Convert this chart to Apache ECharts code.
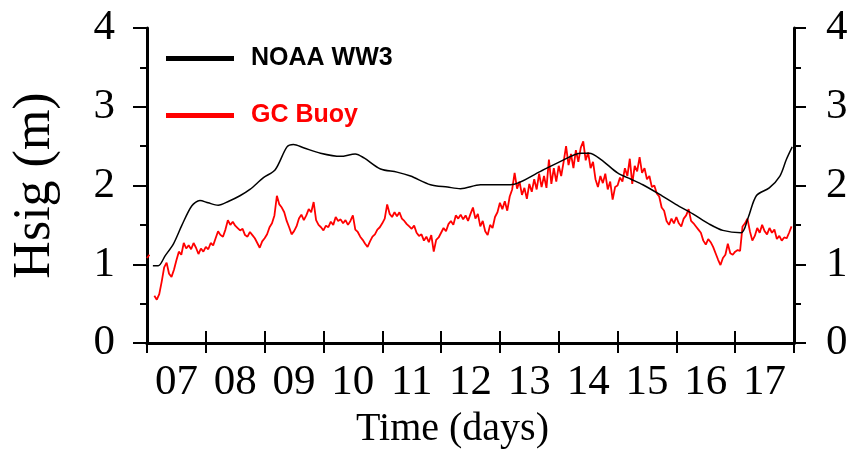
<!DOCTYPE html>
<html>
<head>
<meta charset="utf-8">
<script src="https://cdn.jsdelivr.net/npm/echarts@6/dist/echarts.min.js"></script>
<style>
  html, body { margin: 0; padding: 0; background: #fff; }
  #main { width: 851px; height: 454px; }
</style>
</head>
<body>
<div id="main"></div>
<script>
// day labels, centred on each day
var dayLabels = ['07', '08', '09', '10', '11', '12', '13', '14', '15', '16', '17'];

// NOAA WW3 model: time (day of month) and Hsig (m)
var wwTimes = [7.10, 7.19, 7.31, 7.45, 7.59, 7.76, 7.90, 8.04, 8.21, 8.39, 8.58, 8.75, 8.98, 9.18, 9.38, 9.49,
  9.66, 9.95, 10.29, 10.54, 10.69, 10.97, 11.25, 11.48, 11.82, 12.11, 12.33, 12.67, 13.18, 13.69, 14.04, 14.38,
  14.52, 14.72, 15.00, 15.23, 15.43, 15.71, 15.99, 16.28, 16.56, 16.79, 17.10, 17.22, 17.36, 17.58, 17.76, 17.87, 17.97];
var wwHsig = [0.98, 0.98, 1.11, 1.26, 1.49, 1.74, 1.81, 1.78, 1.75, 1.80, 1.87, 1.95, 2.10, 2.20, 2.49, 2.52,
  2.48, 2.41, 2.37, 2.40, 2.35, 2.21, 2.17, 2.12, 2.01, 1.98, 1.96, 2.01, 2.01, 2.18, 2.31, 2.41,
  2.41, 2.33, 2.16, 2.08, 2.01, 1.89, 1.76, 1.64, 1.51, 1.43, 1.40, 1.59, 1.87, 1.97, 2.12, 2.33, 2.49];

// GC buoy: hourly Hsig (m) starting 07 00:00
var buoyStart = 7;
var buoyHsig = [
  1.08, 1.12, null, 0.60, 0.55, 0.62, 0.78, 0.96, 1.02, 0.88, 0.84, 0.93, 1.05, 1.16, 1.12, 1.27, 1.20, 1.24, 1.19, 1.27, 1.21, 1.13, 1.20, 1.16,
  1.22, 1.19, 1.27, 1.24, 1.33, 1.42, 1.37, 1.35, 1.44, 1.56, 1.50, 1.54, 1.49, 1.46, 1.43, 1.45, 1.37, 1.35, 1.41, 1.37, 1.33, 1.27, 1.21, 1.29,
  1.33, 1.38, 1.47, 1.52, 1.62, 1.87, 1.76, 1.72, 1.66, 1.55, 1.47, 1.38, 1.42, 1.48, 1.58, 1.63, 1.56, 1.62, 1.70, 1.66, 1.79, 1.56, 1.50, 1.47,
  1.43, 1.49, 1.47, 1.54, 1.50, 1.60, 1.55, 1.57, 1.52, 1.56, 1.50, 1.55, 1.62, 1.44, 1.41, 1.35, 1.31, 1.26, 1.22, 1.29, 1.35, 1.38, 1.44, 1.47,
  1.52, 1.58, 1.76, 1.64, 1.60, 1.66, 1.61, 1.66, 1.58, 1.55, 1.51, 1.48, 1.45, 1.49, 1.40, 1.36, 1.38, 1.30, 1.35, 1.28, 1.37, 1.16, 1.31, 1.34,
  1.40, 1.46, 1.42, 1.51, 1.55, 1.50, 1.62, 1.58, 1.63, 1.57, 1.62, 1.55, 1.64, 1.72, 1.58, 1.64, 1.48, 1.55, 1.42, 1.37, 1.50, 1.46, 1.60, 1.66,
  1.78, 1.70, 1.80, 1.68, 1.86, 1.95, 2.16, 1.96, 2.05, 1.88, 1.97, 1.83, 2.02, 1.92, 2.08, 1.95, 2.15, 1.98, 2.12, 1.97, 2.33, 2.02, 2.22, 2.05,
  2.25, 2.12, 2.30, 2.50, 2.26, 2.40, 2.22, 2.45, 2.30, 2.48, 2.56, 2.32, 2.42, 2.22, 2.30, 2.08, 1.98, 2.12, 2.03, 2.15, 1.95, 2.05, 1.82, 1.98,
  2.00, 2.10, 2.05, 2.22, 2.12, 2.34, 2.02, 2.25, 2.18, 2.36, 2.16, 2.22, 2.08, 2.12, 1.98, 2.00, 1.90, 1.86, 1.72, 1.68, 1.55, 1.50, 1.58, 1.52,
  1.60, 1.52, 1.48, 1.58, 1.62, 1.70, 1.55, 1.52, 1.48, 1.44, 1.40, 1.30, 1.25, 1.32, 1.28, 1.22, 1.14, 1.06, 0.99, 1.08, 1.12, 1.26, 1.14, 1.12,
  1.16, 1.18, 1.17, 1.48, 1.52, 1.58, 1.42, 1.30, 1.36, 1.46, 1.40, 1.50, 1.42, 1.38, 1.46, 1.40, 1.44, 1.32, 1.36, 1.30, 1.34, 1.33, 1.40, 1.48
];

var serif = 'Liberation Serif';

var wwData = wwTimes.map(function (t, i) { return [t, wwHsig[i]]; });
var buoyData = buoyHsig.map(function (v, i) { return [buoyStart + i / 24, v]; });

var frameLine = { show: true, lineStyle: { color: '#000', width: 3 } };

var option = {
  animation: false,
  backgroundColor: '#fff',
  grid: { left: 147, right: 57, top: 28, bottom: 109 },
  legend: {
    orient: 'vertical',
    left: 161,
    top: 41,
    itemWidth: 68,
    itemHeight: 5,
    itemGap: 32,
    icon: 'rect',
    textStyle: {
      fontFamily: 'Liberation Sans',
      fontWeight: 'bold',
      fontSize: 25,
      padding: [0, 0, 0, 12]
    },
    data: [
      { name: 'NOAA WW3', textStyle: { color: '#000' } },
      { name: 'GC Buoy', textStyle: { color: '#ff0000' } }
    ]
  },
  xAxis: [
    {
      type: 'value', position: 'bottom', min: 7, max: 18, interval: 1,
      axisLine: frameLine,
      axisTick: { show: true, length: 10, lineStyle: { color: '#000', width: 2 } },
      axisLabel: { show: false },
      splitLine: { show: false }
    },
    {
      type: 'value', position: 'top', min: 7, max: 18, interval: 1,
      axisLine: frameLine,
      axisTick: { show: true, length: 12, lineStyle: { color: '#000', width: 2 } },
      axisLabel: { show: false },
      splitLine: { show: false }
    },
    {
      type: 'category', position: 'bottom', data: dayLabels, boundaryGap: true,
      axisLine: { show: false },
      axisTick: { show: false },
      axisLabel: { interval: 0, margin: 18, color: '#000', fontFamily: serif, fontSize: 43 },
      name: 'Time (days)',
      nameLocation: 'middle',
      nameGap: 66,
      nameTextStyle: { color: '#000', fontFamily: serif, fontSize: 40, padding: [0, 36, 0, 0] }
    }
  ],
  yAxis: [
    {
      type: 'value', position: 'left', min: 0, max: 4, interval: 1,
      axisLine: frameLine,
      axisTick: { show: true, length: 14, lineStyle: { color: '#000', width: 2 } },
      minorTick: { show: true, splitNumber: 2, length: 7, lineStyle: { color: '#000', width: 2 } },
      axisLabel: { margin: 32, color: '#000', fontFamily: serif, fontSize: 43 },
      splitLine: { show: false },
      name: 'Hsig (m)',
      nameLocation: 'middle',
      nameGap: 86,
      nameTextStyle: { color: '#000', fontFamily: serif, fontSize: 52 }
    },
    {
      type: 'value', position: 'right', min: 0, max: 4, interval: 1,
      axisLine: frameLine,
      axisTick: { show: true, length: 12, lineStyle: { color: '#000', width: 2 } },
      minorTick: { show: true, splitNumber: 2, length: 7, lineStyle: { color: '#000', width: 2 } },
      axisLabel: { margin: 32, color: '#000', fontFamily: serif, fontSize: 43 },
      splitLine: { show: false }
    }
  ],
  series: [
    {
      name: 'NOAA WW3', type: 'line', xAxisIndex: 0, yAxisIndex: 0,
      data: wwData, showSymbol: false, symbol: 'none', smooth: 0.3,
      itemStyle: { color: '#000' },
      lineStyle: { color: '#000', width: 1.5 },
      z: 3
    },
    {
      name: 'GC Buoy', type: 'line', xAxisIndex: 0, yAxisIndex: 0,
      data: buoyData, showSymbol: false, symbol: 'none', connectNulls: false,
      itemStyle: { color: '#ff0000' },
      lineStyle: { color: '#ff0000', width: 1.8 },
      z: 2
    }
  ]
};

echarts.init(document.getElementById('main')).setOption(option);
</script>
</body>
</html>
